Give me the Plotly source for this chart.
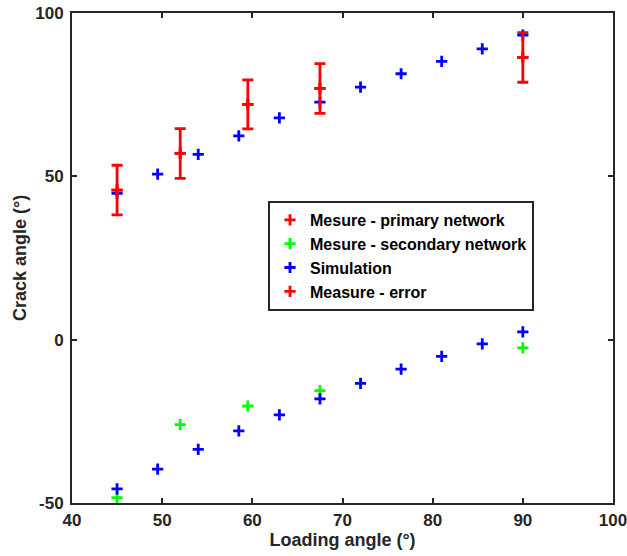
import plotly.graph_objects as go

# Data
sim_x = [45, 49.5, 54, 58.5, 63, 67.5, 72, 76.5, 81, 85.5, 90]
sim_upper = [44.8, 50.7, 56.7, 62.4, 67.9, 72.7, 77.3, 81.4, 85.2, 89.0, 93.2]
sim_lower = [-45.7, -39.6, -33.6, -27.9, -23.0, -18.1, -13.4, -9.0, -5.1, -1.3, 2.4]

meas_x = [45, 52, 59.5, 67.5, 90]
primary_y = [45.8, 57.0, 72.0, 76.9, 86.4]
secondary_y = [-48.4, -26.0, -20.3, -15.6, -2.5]
error_y = [7.6, 7.6, 7.5, 7.6, 7.6]

x_ticks = [40, 50, 60, 70, 80, 90, 100]
x_ticktext = ["40", "50", "60", "70", "80", "90", "100"]
y_ticks = [-50, 0, 50, 100]
y_ticktext = ["-50", "0", "50", "100"]

RED = "#ff0000"
GREEN = "#00ff00"
BLUE = "#0000ff"
AX = "#262626"
FONT = "Liberation Sans"


def plus(color):
    return dict(symbol="cross-thin", size=8, color=color,
                line=dict(color=color, width=2.8))


fig = go.Figure()

fig.add_trace(go.Scatter(
    x=meas_x, y=primary_y, mode="markers", name="Mesure - primary network",
    marker=plus(RED)))

fig.add_trace(go.Scatter(
    x=meas_x, y=secondary_y, mode="markers", name="Mesure - secondary network",
    marker=plus(GREEN)))

fig.add_trace(go.Scatter(
    x=sim_x + sim_x, y=sim_upper + sim_lower, mode="markers", name="Simulation",
    marker=plus(BLUE)))

fig.add_trace(go.Scatter(
    x=meas_x, y=primary_y, mode="markers", name="Measure - error",
    marker=plus(RED),
    error_y=dict(type="data", array=error_y, visible=True, color=RED,
                 thickness=2.8, width=5.5)))

axis_common = dict(
    showgrid=False, zeroline=False, showline=True, linecolor=AX, linewidth=2,
    mirror="ticks", ticks="inside", ticklen=5, tickwidth=2, tickcolor=AX,
    automargin=False, ticklabeloverflow="allow",
    tickfont=dict(family=FONT, size=17, color=AX, weight="bold"),
)

fig.update_layout(
    width=627, height=556,
    margin=dict(l=72, r=14, t=13, b=53),
    plot_bgcolor="white", paper_bgcolor="white",
    font=dict(family=FONT, color=AX),
    xaxis=dict(range=[40, 100], tickmode="array", tickvals=x_ticks,
               ticktext=x_ticktext, ticklabelstandoff=1,
               title=dict(text="Loading angle (°)", standoff=3,
                          font=dict(family=FONT, size=18, color=AX, weight="bold")),
               **axis_common),
    yaxis=dict(range=[-50, 100], tickmode="array", tickvals=y_ticks,
               ticktext=y_ticktext, ticklabelstandoff=3,
               title=dict(text="Crack angle (°)", standoff=4,
                          font=dict(family=FONT, size=18, color=AX, weight="bold")),
               **axis_common),
    legend=dict(x=0.3623, y=0.6163, xanchor="left", yanchor="top",
                bgcolor="white", bordercolor=AX, borderwidth=2,
                font=dict(family=FONT, size=16, color="black", weight="bold"),
                tracegroupgap=0, itemwidth=30),
    showlegend=True,
)

fig.write_html("out.html")
